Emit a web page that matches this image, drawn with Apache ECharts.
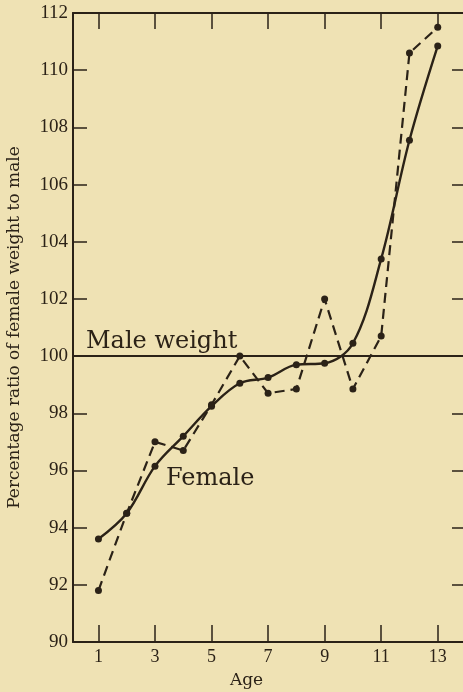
<!DOCTYPE html>
<html>
<head>
<meta charset="utf-8">
<script src="https://cdn.jsdelivr.net/npm/echarts@6/dist/echarts.min.js"></script>
<style>
  html, body { margin: 0; padding: 0; background: #efe2b4; }
  #chart { width: 463px; height: 692px; }
</style>
</head>
<body>
<div id="chart"></div>
<script>
// ages on the x axis
var ages = [1, 2, 3, 4, 5, 6, 7, 8, 9, 10, 11, 12, 13];
// dashed line: observed ratio
var observed = [91.8, 94.5, 97.0, 96.7, 98.3, 100.0, 98.7, 98.85, 102.0, 98.85, 100.7, 110.6, 111.5];
// solid line: smoothed ratio
var smoothed = [93.6, 94.5, 96.15, 97.2, 98.25, 99.05, 99.25, 99.7, 99.75, 100.45, 103.4, 107.55, 110.85];
var ageTicks = [1, 3, 5, 7, 9, 11, 13];
var maleLevel = 100;

var ink = '#2b2217';

function pairs(ys) {
    return ages.map(function (a, i) { return [a, ys[i]]; });
}

var myChart = echarts.init(document.getElementById('chart'));
option = {
    backgroundColor: '#efe2b4',
    animation: false,
    grid: { left: 73, top: 13, width: 393, height: 629, outerBoundsMode: 'none', containLabel: false },
    xAxis: [
        {
            type: 'value', position: 'bottom', min: 0.1, max: 14,
            name: 'Age', nameLocation: 'middle', nameGap: 30,
            nameTextStyle: { fontFamily: 'DejaVu Serif', fontSize: 17, color: ink, padding: [0, 46, 0, 0] },
            axisLine: { lineStyle: { color: ink, width: 2 } },
            axisTick: { inside: true, length: 17, customValues: ageTicks, lineStyle: { color: ink, width: 1.5 } },
            axisLabel: { customValues: ageTicks, margin: 6, fontFamily: 'Liberation Serif', fontSize: 18, color: ink },
            splitLine: { show: false }
        },
        {
            type: 'value', position: 'top', min: 0.1, max: 14,
            axisLine: { lineStyle: { color: ink, width: 2 } },
            axisTick: { inside: true, length: 16, customValues: ageTicks, lineStyle: { color: ink, width: 1.5 } },
            axisLabel: { show: false },
            splitLine: { show: false }
        }
    ],
    yAxis: [
        {
            type: 'value', position: 'left', min: 90, max: 112, interval: 2,
            name: 'Percentage ratio of female weight to male', nameLocation: 'middle', nameGap: 50,
            nameTextStyle: { fontFamily: 'DejaVu Serif', fontSize: 17, color: ink },
            axisLine: { show: true, lineStyle: { color: ink, width: 2 } },
            axisTick: { show: true, inside: true, length: 14, lineStyle: { color: ink, width: 1.5 } },
            axisLabel: { margin: 5, fontFamily: 'Liberation Serif', fontSize: 19, color: ink },
            splitLine: { show: false }
        },
        {
            type: 'value', position: 'right', min: 90, max: 112, interval: 2,
            axisLine: { show: false },
            axisTick: { show: true, inside: true, length: 14, lineStyle: { color: ink, width: 1.5 } },
            axisLabel: { show: false },
            splitLine: { show: false }
        }
    ],
    series: [
        {
            name: 'Observed', type: 'line', data: pairs(observed),
            symbol: 'circle', symbolSize: 7,
            itemStyle: { color: ink },
            lineStyle: { color: ink, width: 2.2, type: [10, 6] }
        },
        {
            name: 'Female', type: 'line', data: pairs(smoothed),
            smooth: 0.35,
            symbol: 'circle', symbolSize: 7,
            itemStyle: { color: ink },
            lineStyle: { color: ink, width: 2.4 },
            markLine: {
                silent: true, symbol: 'none',
                label: { show: false },
                lineStyle: { color: ink, width: 2, type: 'solid' },
                data: [{ yAxis: maleLevel }]
            }
        }
    ],
    graphic: [
        {
            type: 'text', left: 86, top: 330,
            style: { text: 'Male weight', fontFamily: 'DejaVu Serif', fontSize: 24, fill: ink }
        },
        {
            type: 'text', left: 166, top: 467,
            style: { text: 'Female', fontFamily: 'DejaVu Serif', fontSize: 24, fill: ink }
        }
    ]
};
myChart.setOption(option);
</script>
</body>
</html>
